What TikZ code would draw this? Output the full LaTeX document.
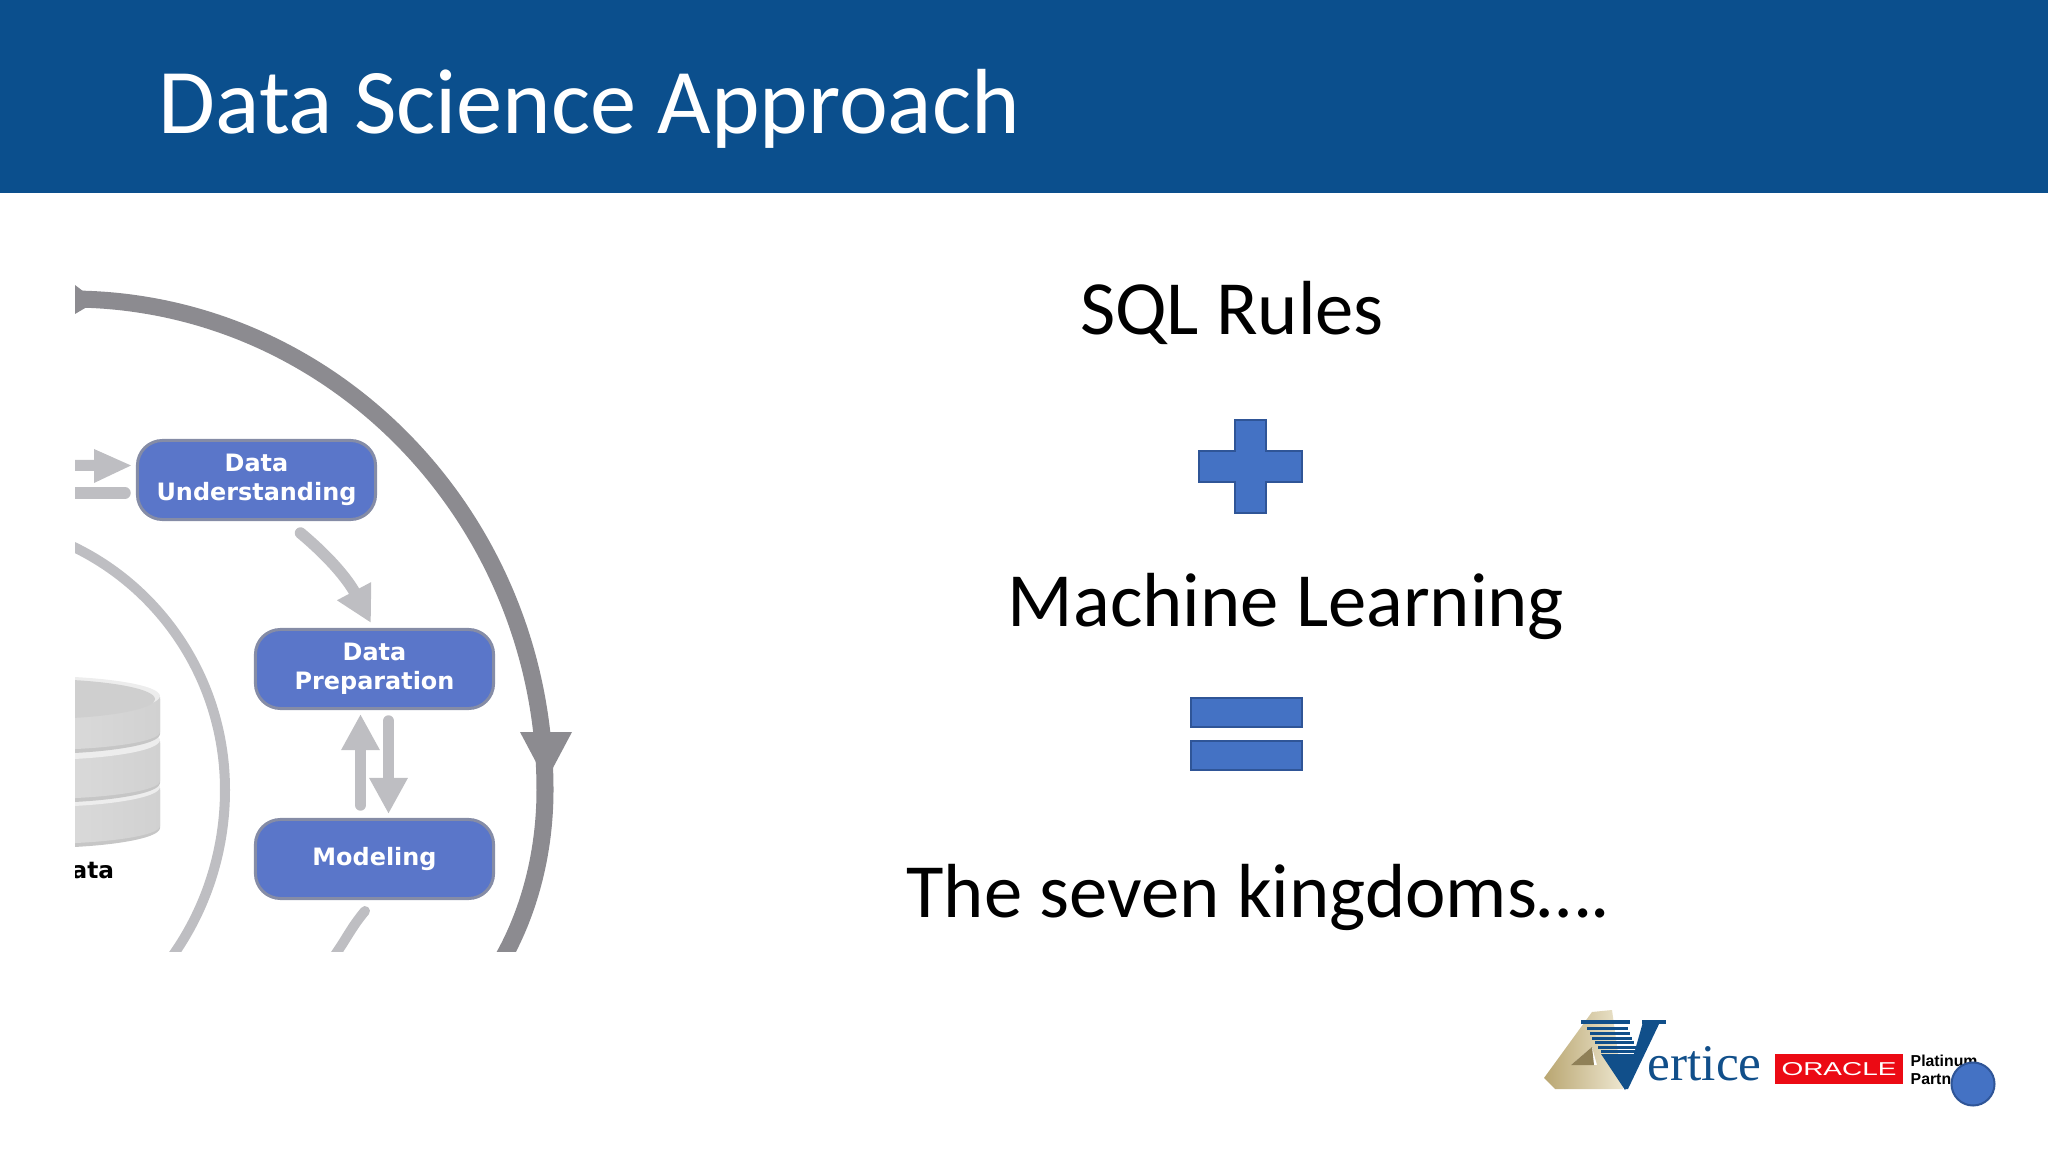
\documentclass[tikz,border=0pt]{standalone}
\usepackage{fontspec}
\usetikzlibrary{arrows.meta}
\setmainfont{Carlito}
\newfontfamily\boxfont{DejaVu Sans}
\newfontfamily\logofont{Liberation Serif}
\newfontfamily\partnerfont{Liberation Sans}
\definecolor{ThemeBlue}{HTML}{0B4F8D}
\definecolor{BoxBlue}{HTML}{5A76C9}
\definecolor{BoxEdge}{HTML}{858CA6}
\definecolor{ShapeBlue}{HTML}{4472C4}
\definecolor{ShapeEdge}{HTML}{2F5597}
\definecolor{OuterGray}{HTML}{8C8B90}
\definecolor{InnerGray}{HTML}{BEBEC2}
\definecolor{LogoBlue}{HTML}{114F8A}
\definecolor{LogoGold}{HTML}{B9A671}
\definecolor{LogoPale}{HTML}{EDE6CF}
\definecolor{LogoDark}{HTML}{8F8057}
\definecolor{OracleRed}{HTML}{EC0A14}
\tikzset{
  stagebox/.style={draw=BoxEdge, line width=0.3mm, fill=BoxBlue, rounded corners=2.5mm, minimum width=2.38cm, minimum height=0.79cm,
    inner sep=0pt, text=white, align=center, font=\boxfont\bfseries\fontsize{6.8}{8.3}\selectfont},
  bigtext/.style={inner sep=0pt, font=\fontsize{21.8}{26}\selectfont},
  mathshape/.style={fill=ShapeBlue, draw=ShapeEdge, line width=0.25mm},
  flowarrow/.style={draw=InnerGray, line width=1.15mm, line cap=round, -{Triangle[length=3.6mm, width=3.6mm]}},
  diskbody/.style={left color=gray!18, right color=gray!36}
}
\begin{document}
\begin{tikzpicture}[x=0.01cm, y=-0.01cm]
  \useasboundingbox (0,0) rectangle (2048,1152);

  % Header
  \fill[ThemeBlue] (0,0) rectangle (2048,193);
  \node[anchor=west, inner sep=0pt, text=white, font=\fontsize{26.3}{31}\selectfont] (title) at (158,109) {Data Science Approach};

  % Cropped picture
  \begin{scope}
    \clip (75,270) rectangle (620,951);
    \draw[OuterGray, line width=1.7mm] (70,299) arc[start angle=-90, end angle=0, x radius=475, y radius=491]
      arc[start angle=0, end angle=45, x radius=210, y radius=280];
    \draw[InnerGray, line width=1mm] (-40,521) arc[start angle=-90, end angle=0, x radius=265, y radius=269]
      arc[start angle=0, end angle=45, x radius=270, y radius=280];
    \fill[OuterGray] (75,285) -- (92,298) -- (92,304) -- (75,314) -- cycle;
    \fill[OuterGray] (520,732) -- (572,732) -- (546,781) -- cycle;

    % Disks
    \foreach \ytop/\yh in {790/38, 743/40, 699/35} {
      \fill[gray!45] (160,\ytop) -- (160,\ytop+\yh) arc[start angle=0, end angle=180, x radius=125, y radius=20] -- (-90,\ytop) -- cycle;
      \shade[diskbody] (160,\ytop-2) -- (160,\ytop+\yh-2) arc[start angle=0, end angle=180, x radius=125, y radius=18] -- (-90,\ytop-2) -- cycle;
      \fill[gray!14] (35,\ytop-3) ellipse[x radius=125, y radius=20];
    }
    \fill[gray!38] (35,699) ellipse[x radius=120, y radius=20];

    \node[anchor=west, inner sep=0pt, font=\boxfont\bfseries\fontsize{6.6}{8}\selectfont] (ata) at (71,871) {ata};

    % Arrows coming in from the left
    \fill[InnerGray] (60,460) -- (94,460) -- (94,449) -- (131,465.5) -- (94,483) -- (94,471) -- (60,471) -- cycle;
    \coordinate (barstart) at (60,493);
    \coordinate (barend) at (125,493);
    \draw[InnerGray, line width=1.15mm, line cap=round] (barstart) -- (barend);
  \end{scope}

  % Stages
  \node[stagebox] (understanding) at (256.5,480) {\raisebox{-1pt}{\parbox{2cm}{\centering Data\\Understanding}}};
  \node[stagebox] (preparation) at (374.5,669) {\raisebox{-1pt}{\parbox{2cm}{\centering Data\\Preparation}}};
  \node[stagebox] (modeling) at (374.5,859) {\raisebox{-0.4pt}{Modeling}};

  % Arrows between stages
  \draw[flowarrow] ([xshift=0.44cm, yshift=-0.12cm]understanding.south) to[out=-40, in=118] ([xshift=-0.035cm, yshift=0.05cm]preparation.north);
  \draw[flowarrow] ([xshift=-0.14cm, yshift=0.13cm]modeling.north) -- ([xshift=-0.14cm, yshift=-0.04cm]preparation.south);
  \draw[flowarrow] ([xshift=0.14cm, yshift=-0.11cm]preparation.south) -- ([xshift=0.14cm, yshift=0.04cm]modeling.north);
  \begin{scope}
    \clip (75,270) rectangle (620,951);
    \coordinate (modelout) at (335,955);
    \draw[InnerGray, line width=1mm, line cap=round] ([xshift=-0.095cm, yshift=-0.11cm]modeling.south) to[out=230, in=55] (modelout);
  \end{scope}

  % Right hand text
  \node[bigtext] (sql) at (1232,313) {SQL Rules};
  \draw[mathshape] (1235,420) -- (1266,420) -- (1266,451) -- (1302,451) -- (1302,482) -- (1266,482) -- (1266,513) -- (1235,513) -- (1235,482) -- (1199,482) -- (1199,451) -- (1235,451) -- cycle;
  \node[bigtext] (learning) at (1286,606) {Machine Learning};
  \draw[mathshape] (1191,698) rectangle (1302,727);
  \draw[mathshape] (1191,741) rectangle (1302,770);
  \node[bigtext] (kingdoms) at (1258,897) {The seven kingdoms….};

  % Vertice logo
  \shade[left color=LogoGold, right color=LogoPale, even odd rule]
    (1544,1078) -- (1592,1012) -- (1612,1010) -- (1623,1089) -- (1555,1089) -- cycle
    (1571,1065) -- (1592,1047) -- (1597,1065) -- cycle;
  \fill[LogoDark] (1571,1065) -- (1592,1047) -- (1594,1065) -- cycle;
  \fill[LogoBlue] (1581,1020) rectangle (1630,1024);
  \foreach \ya/\xa/\xb in {1027/1587/1628, 1032/1590/1630, 1037/1592/1632, 1041/1595/1634, 1046/1598/1636, 1050/1601/1638} {
    \fill[LogoBlue] (\xa,\ya) rectangle (\xb,\ya+3);
  }
  \fill[LogoBlue] (1601,1054) -- (1644,1054) -- (1625,1090) -- cycle;
  \fill[LogoBlue] (1643,1022) -- (1660,1022) -- (1628,1089) -- (1624,1089) -- cycle;
  \fill[LogoBlue] (1642,1020) rectangle (1666,1024);
  \node[anchor=base west, inner sep=0pt, text=LogoBlue, font=\logofont\fontsize{14.6}{16}\selectfont] (vertice) at (1647,1080) {ertice};

  % Oracle logo
  \node[fill=OracleRed, minimum width=1.28cm, minimum height=0.3cm, inner sep=0pt, text=white] (oracle) at (1839,1069)
    {\scalebox{1.5}[1]{\partnerfont\fontsize{5.3}{6}\selectfont ORACLE}};
  \node[anchor=north west, inner sep=0pt, align=left, font=\partnerfont\bfseries\fontsize{4.5}{5.3}\selectfont] (platinum) at (1910,1054) {Platinum\\Partn};
  \node[circle, fill=ShapeBlue, draw=ShapeEdge, line width=0.2mm, minimum size=0.43cm, inner sep=0pt] (pointer) at (1973,1084) {};
\end{tikzpicture}
\end{document}
